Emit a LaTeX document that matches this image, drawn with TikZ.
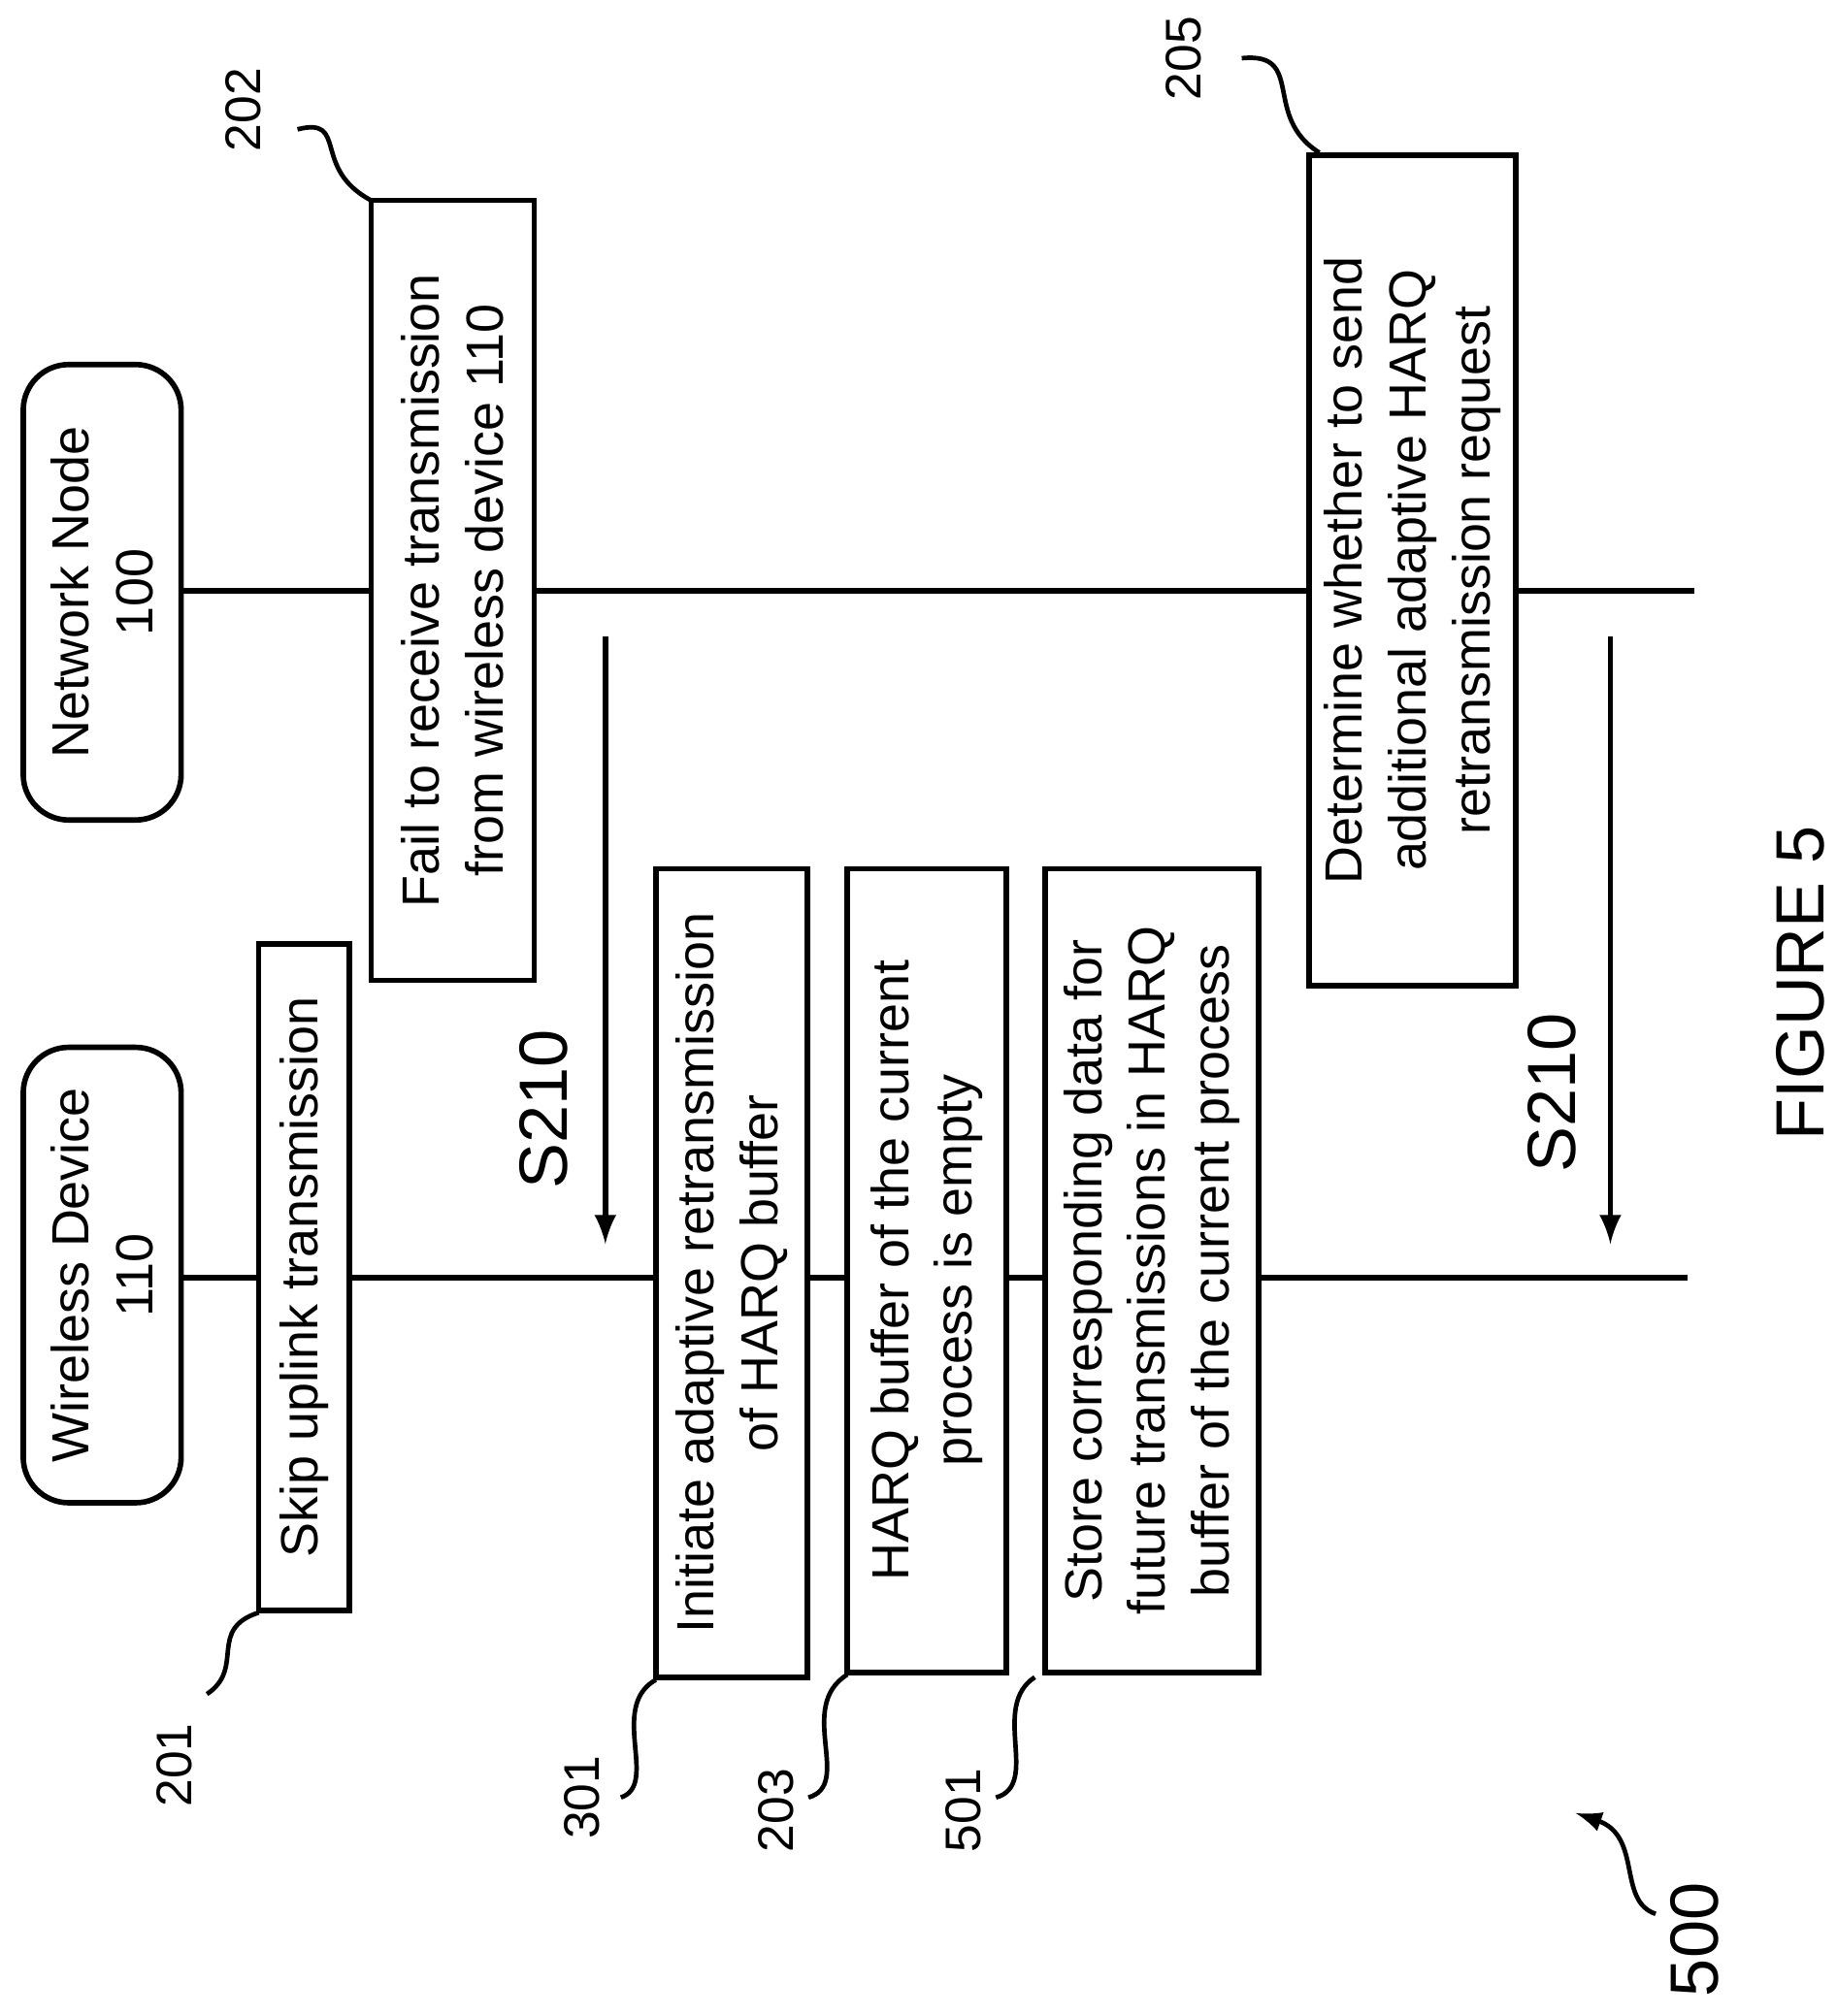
\documentclass[tikz,border=0pt]{standalone}
\usepackage{fontspec}
\setmainfont{Liberation Sans}
\begin{document}
\begin{tikzpicture}[x=0.01cm,y=-0.01cm,
  box/.style={draw,line width=1.2pt,fill=white,rotate=90,align=center,inner sep=0pt,font=\fontsize{11.5}{14}\selectfont},
  ent/.style={box,rounded corners=10pt},
  lbl/.style={rotate=90,font=\fontsize{11}{13}\selectfont},
  big/.style={rotate=90,font=\fontsize{15}{18}\selectfont},
  sq/.style={line width=1pt},
  life/.style={line width=1.2pt}]
\useasboundingbox (0,0) rectangle (1420,1559);
\coordinate (nnE) at (1310,457);
\coordinate (wdE) at (1305,988);
\coordinate (nnR) at (140,457);
\coordinate (wdR) at (140,988);
\draw[life] (nnR) -- (nnE);
\draw[life] (wdR) -- (wdE);
\node[ent,minimum width=3.52cm,minimum height=1.22cm] (wd) at (79,986) {Wireless Device\\110};
\node[ent,minimum width=3.52cm,minimum height=1.22cm] (nn) at (79,458) {Network Node\\100};
\node[box,minimum width=6.03cm,minimum height=1.26cm] (b202) at (350,456.5) {Fail to receive transmission\\from wireless device 110};
\node[box,minimum width=5.15cm,minimum height=0.70cm] (b201) at (235,987.5) {Skip uplink transmission};
\node[box,minimum width=6.25cm,minimum height=1.17cm] (b301) at (565.5,984.5) {Initiate adaptive retransmission\\of HARQ buffer};
\node[box,minimum width=6.21cm,minimum height=1.23cm] (b203) at (716.5,982.5) {HARQ buffer of the current\\process is empty};
\node[box,minimum width=6.21cm,minimum height=1.65cm] (b501) at (890.5,982.5) {Store corresponding data for\\future transmissions in HARQ\\buffer of the current process};
\node[box,minimum width=6.42cm,minimum height=1.60cm] (b205) at (1092,441) {Determine whether to send\\additional adaptive HARQ\\retransmission request};
\coordinate (a1s) at (468,492); \coordinate (a1e) at (468,962);
\coordinate (a2s) at (1245,492); \coordinate (a2e) at (1245,962);
\draw[life,-latex] (a1s) -- (a1e);
\draw[life,-latex] (a2s) -- (a2e);
\node[big] (s1) at (420,858) {S210};
\node[big] (s2) at (1200,845) {S210};
\node[big] (fig) at (1392,760) {FIGURE 5};
\node[lbl] (l202) at (188,85) {202};
\node[lbl] (l205) at (915,45) {205};
\node[lbl] (l201) at (135,1365) {201};
\node[lbl] (l301) at (450,1390) {301};
\node[lbl] (l203) at (600,1400) {203};
\node[lbl] (l501) at (745,1400) {501};
\node[big] (l500) at (1310,1500) {500};
\coordinate (c202) at (287,155);
\coordinate (c205) at (1020,118);
\coordinate (c201) at (200,1247);
\coordinate (c301) at (507,1299);
\coordinate (c203) at (655,1295);
\coordinate (c501) at (800,1297);
\draw[sq] (230,100) .. controls (270,90) and (240,130) .. (c202);
\draw[sq] (960,45) .. controls (1010,40) and (975,90) .. (c205);
\draw[sq] (160,1310) .. controls (190,1290) and (160,1260) .. (c201);
\draw[sq] (480,1390) .. controls (510,1380) and (470,1320) .. (c301);
\draw[sq] (625,1390) .. controls (660,1380) and (615,1320) .. (c203);
\draw[sq] (770,1390) .. controls (805,1380) and (765,1320) .. (c501);
\draw[sq,-latex] (1280,1480) .. controls (1250,1470) and (1270,1420) .. (1218,1402);
\end{tikzpicture}
\end{document}
